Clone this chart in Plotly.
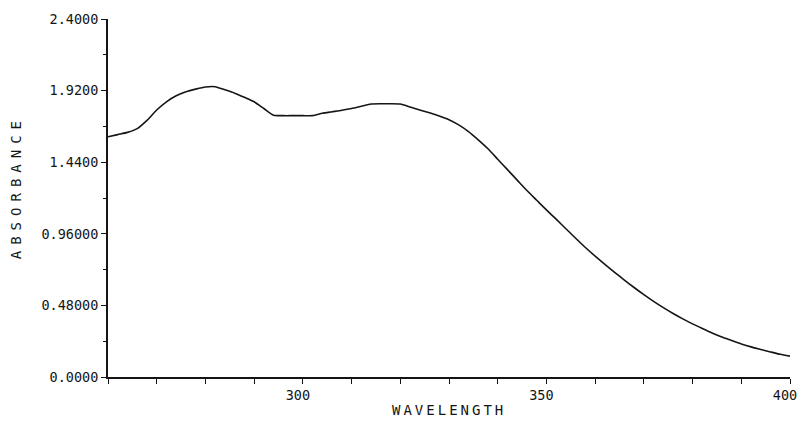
import plotly.graph_objects as go

# Absorption spectrum, wavelength (nm) vs absorbance
wavelength = [260, 262, 264, 266, 268, 270, 272, 274, 276, 278, 280, 282, 284, 286, 288,
              290, 292, 294, 296, 298, 300, 302, 304, 306, 308, 310, 312, 314, 316, 318,
              320, 322, 324, 326, 328, 330, 332, 334, 336, 338, 340, 342, 344, 346, 348,
              350, 352, 354, 356, 358, 360, 362, 364, 366, 368, 370, 372, 374, 376, 378,
              380, 382, 384, 386, 388, 390, 392, 394, 396, 398, 400]
absorbance = [1.610, 1.625, 1.640, 1.665, 1.720, 1.790, 1.845, 1.885, 1.912, 1.930, 1.944,
              1.946, 1.925, 1.903, 1.875, 1.845, 1.800, 1.755, 1.752, 1.752, 1.752, 1.752,
              1.768, 1.778, 1.788, 1.800, 1.815, 1.830, 1.832, 1.832, 1.830, 1.810, 1.790,
              1.772, 1.750, 1.725, 1.690, 1.645, 1.590, 1.530, 1.460, 1.390, 1.320, 1.250,
              1.185, 1.120, 1.058, 0.994, 0.930, 0.868, 0.810, 0.755, 0.702, 0.650, 0.600,
              0.552, 0.507, 0.465, 0.426, 0.390, 0.356, 0.325, 0.295, 0.268, 0.245, 0.222,
              0.202, 0.185, 0.168, 0.152, 0.140]

x_tick_vals = [260, 270, 280, 290, 300, 310, 320, 330, 340, 350, 360, 370, 380, 390, 400]
x_tick_text = ["", "", "", "", "300", "", "", "", "", "350", "", "", "", "", "400"]
y_tick_vals = [0.0, 0.48, 0.96, 1.44, 1.92, 2.40]
y_tick_text = ["0.0000", "0.48000", "0.96000", "1.4400", "1.9200", "2.4000"]

mono = "DejaVu Sans Mono"
ink = "#151515"

fig = go.Figure()
fig.add_trace(go.Scatter(
    x=wavelength, y=absorbance, mode="lines",
    line=dict(color=ink, width=1.6, shape="spline", smoothing=0.6),
    hoverinfo="skip", showlegend=False,
))

fig.update_layout(
    width=799, height=421,
    margin=dict(l=108, r=9, t=19, b=44, autoexpand=False),
    paper_bgcolor="white", plot_bgcolor="white",
    font=dict(family=mono, color=ink, size=13),
    xaxis=dict(
        range=[260, 400], showgrid=False, zeroline=False, automargin=False,
        showline=True, linecolor=ink, linewidth=1.8,
        tickmode="array", tickvals=x_tick_vals, ticktext=x_tick_text,
        ticks="outside", ticklen=5, tickwidth=1.2, tickcolor=ink,
        tickfont=dict(family=mono, size=13.5), ticklabeloverflow="allow",
        ticklabelshift=-5,
    ),
    yaxis=dict(
        range=[0, 2.4], showgrid=False, zeroline=False, automargin=False,
        showline=True, linecolor=ink, linewidth=1.8,
        tickmode="array", tickvals=y_tick_vals, ticktext=y_tick_text,
        ticks="outside", ticklen=5, tickwidth=1.2, tickcolor=ink,
        tickfont=dict(family=mono, size=13.5), ticklabeloverflow="allow",
        minor=dict(tickmode="array", tickvals=[0.24, 0.72, 1.20, 1.68, 2.16],
                   ticks="outside", ticklen=3, tickwidth=1.2, tickcolor=ink),
    ),
    annotations=[
        dict(text='<span style="letter-spacing:3px">WAVELENGTH</span>',
             xref="paper", yref="paper", x=0.5, y=0, yshift=-33,
             xanchor="center", yanchor="middle", showarrow=False,
             font=dict(family=mono, size=14)),
        dict(text='<span style="letter-spacing:6px">ABSORBANCE</span>',
             xref="paper", yref="paper", x=0, xshift=-92, y=0.53,
             xanchor="center", yanchor="middle", textangle=-90, showarrow=False,
             font=dict(family=mono, size=14)),
    ],
)

fig.write_html("out.html")
